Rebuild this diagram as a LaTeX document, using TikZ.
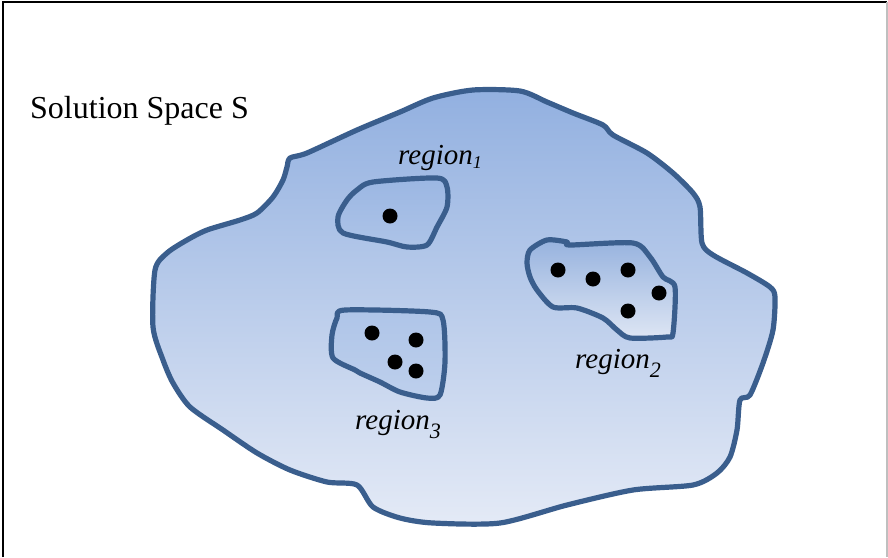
\documentclass[tikz,border=0pt]{standalone}
\usepackage{fontspec}
\setmainfont{Liberation Serif}
\begin{document}
\begin{tikzpicture}[x=1pt,y=-1pt,
  outline/.style={draw=rimblue,line width=5.2pt,line join=round},
  dot/.style={circle,fill=black,inner sep=0pt,minimum size=15pt},
  lbl/.style={anchor=base west,inner sep=0pt,font=\fontsize{29}{30}\selectfont\itshape}]
\definecolor{rimblue}{RGB}{58,94,141}
\definecolor{skytop}{RGB}{146,176,224}
\definecolor{skybot}{RGB}{228,234,246}
\definecolor{pocktop}{RGB}{150,178,222}
\definecolor{pockbot}{RGB}{222,230,244}
\useasboundingbox (0,0) rectangle (888,557);
% frame
\draw[black,line width=2.6pt] (3,557) -- (3,2) -- (887,2);
\draw[black!25,line width=1.2pt] (887,2) -- (887,557);
% solution space
\path[outline,top color=skytop,bottom color=skybot] plot[smooth cycle,tension=0.45] coordinates {
 (290,158) (307,153) (357,130) (400,112) (433,98) (473,90) (520,91) (547,102)
 (573,113) (603,125) (613,135) (647,153) (673,173) (693,193) (700,207) (702,243)
 (713,255) (747,273) (770,287) (775,297) (773,330) (763,363) (750,395) (740,400)
 (737,430) (730,457) (717,473) (693,485) (633,490) (567,505) (500,523) (433,523)
 (400,518) (373,507) (357,485) (327,482) (290,470) (257,453) (223,430) (190,407)
 (173,383) (163,360) (153,327) (155,270) (167,253) (187,240) (207,230) (240,220)
 (257,213) (273,197) (283,180) (287,167)};
% region 1
\path[outline,top color=skytop!92!white,bottom color=skytop!75!white] plot[smooth cycle,tension=0.45] coordinates {
 (357,190) (373,182) (437,178) (447,187) (447,207) (437,227) (427,245) (407,247)
 (387,242) (343,233) (338,217) (347,200)};
% region 2
\path[outline,top color=pocktop,bottom color=pockbot] plot[smooth cycle,tension=0.45] coordinates {
 (530,250) (547,240) (567,242) (570,245) (633,243) (650,257) (663,277) (675,287)
 (673,333) (667,337) (630,338) (617,330) (603,318) (577,308) (553,307) (537,290)
 (530,277) (527,263)};
% region 3
\path[outline,top color=skytop!74!white,bottom color=skytop!60!white] plot[smooth cycle,tension=0.45] coordinates {
 (337,318) (345,310) (430,312) (443,320) (445,362) (440,395) (427,398) (400,392)
 (380,382) (360,373) (355,370) (333,358) (332,335)};
% members
\node[dot] (p1) at (390,216) {};
\node[dot] (q1) at (558,270) {};
\node[dot] (q2) at (593,279) {};
\node[dot] (q3) at (628,270) {};
\node[dot] (q4) at (659,293) {};
\node[dot] (q5) at (628,311) {};
\node[dot] (r1) at (372,333) {};
\node[dot] (r2) at (416,340) {};
\node[dot] (r3) at (395,362) {};
\node[dot] (r4) at (416,371) {};
% labels
\node[anchor=base west,inner sep=0pt,font=\fontsize{32}{33}\selectfont] (title) at (30,118) {Solution Space S};
\node[lbl] (lab1) at (398,164) {region\raisebox{-4pt}{\fontsize{18}{18}\selectfont 1}};
\node[lbl] (lab2) at (575,368) {region\raisebox{-9pt}{\fontsize{22}{22}\selectfont 2}};
\node[lbl] (lab3) at (355,429) {region\raisebox{-9pt}{\fontsize{22}{22}\selectfont 3}};
\end{tikzpicture}
\end{document}
